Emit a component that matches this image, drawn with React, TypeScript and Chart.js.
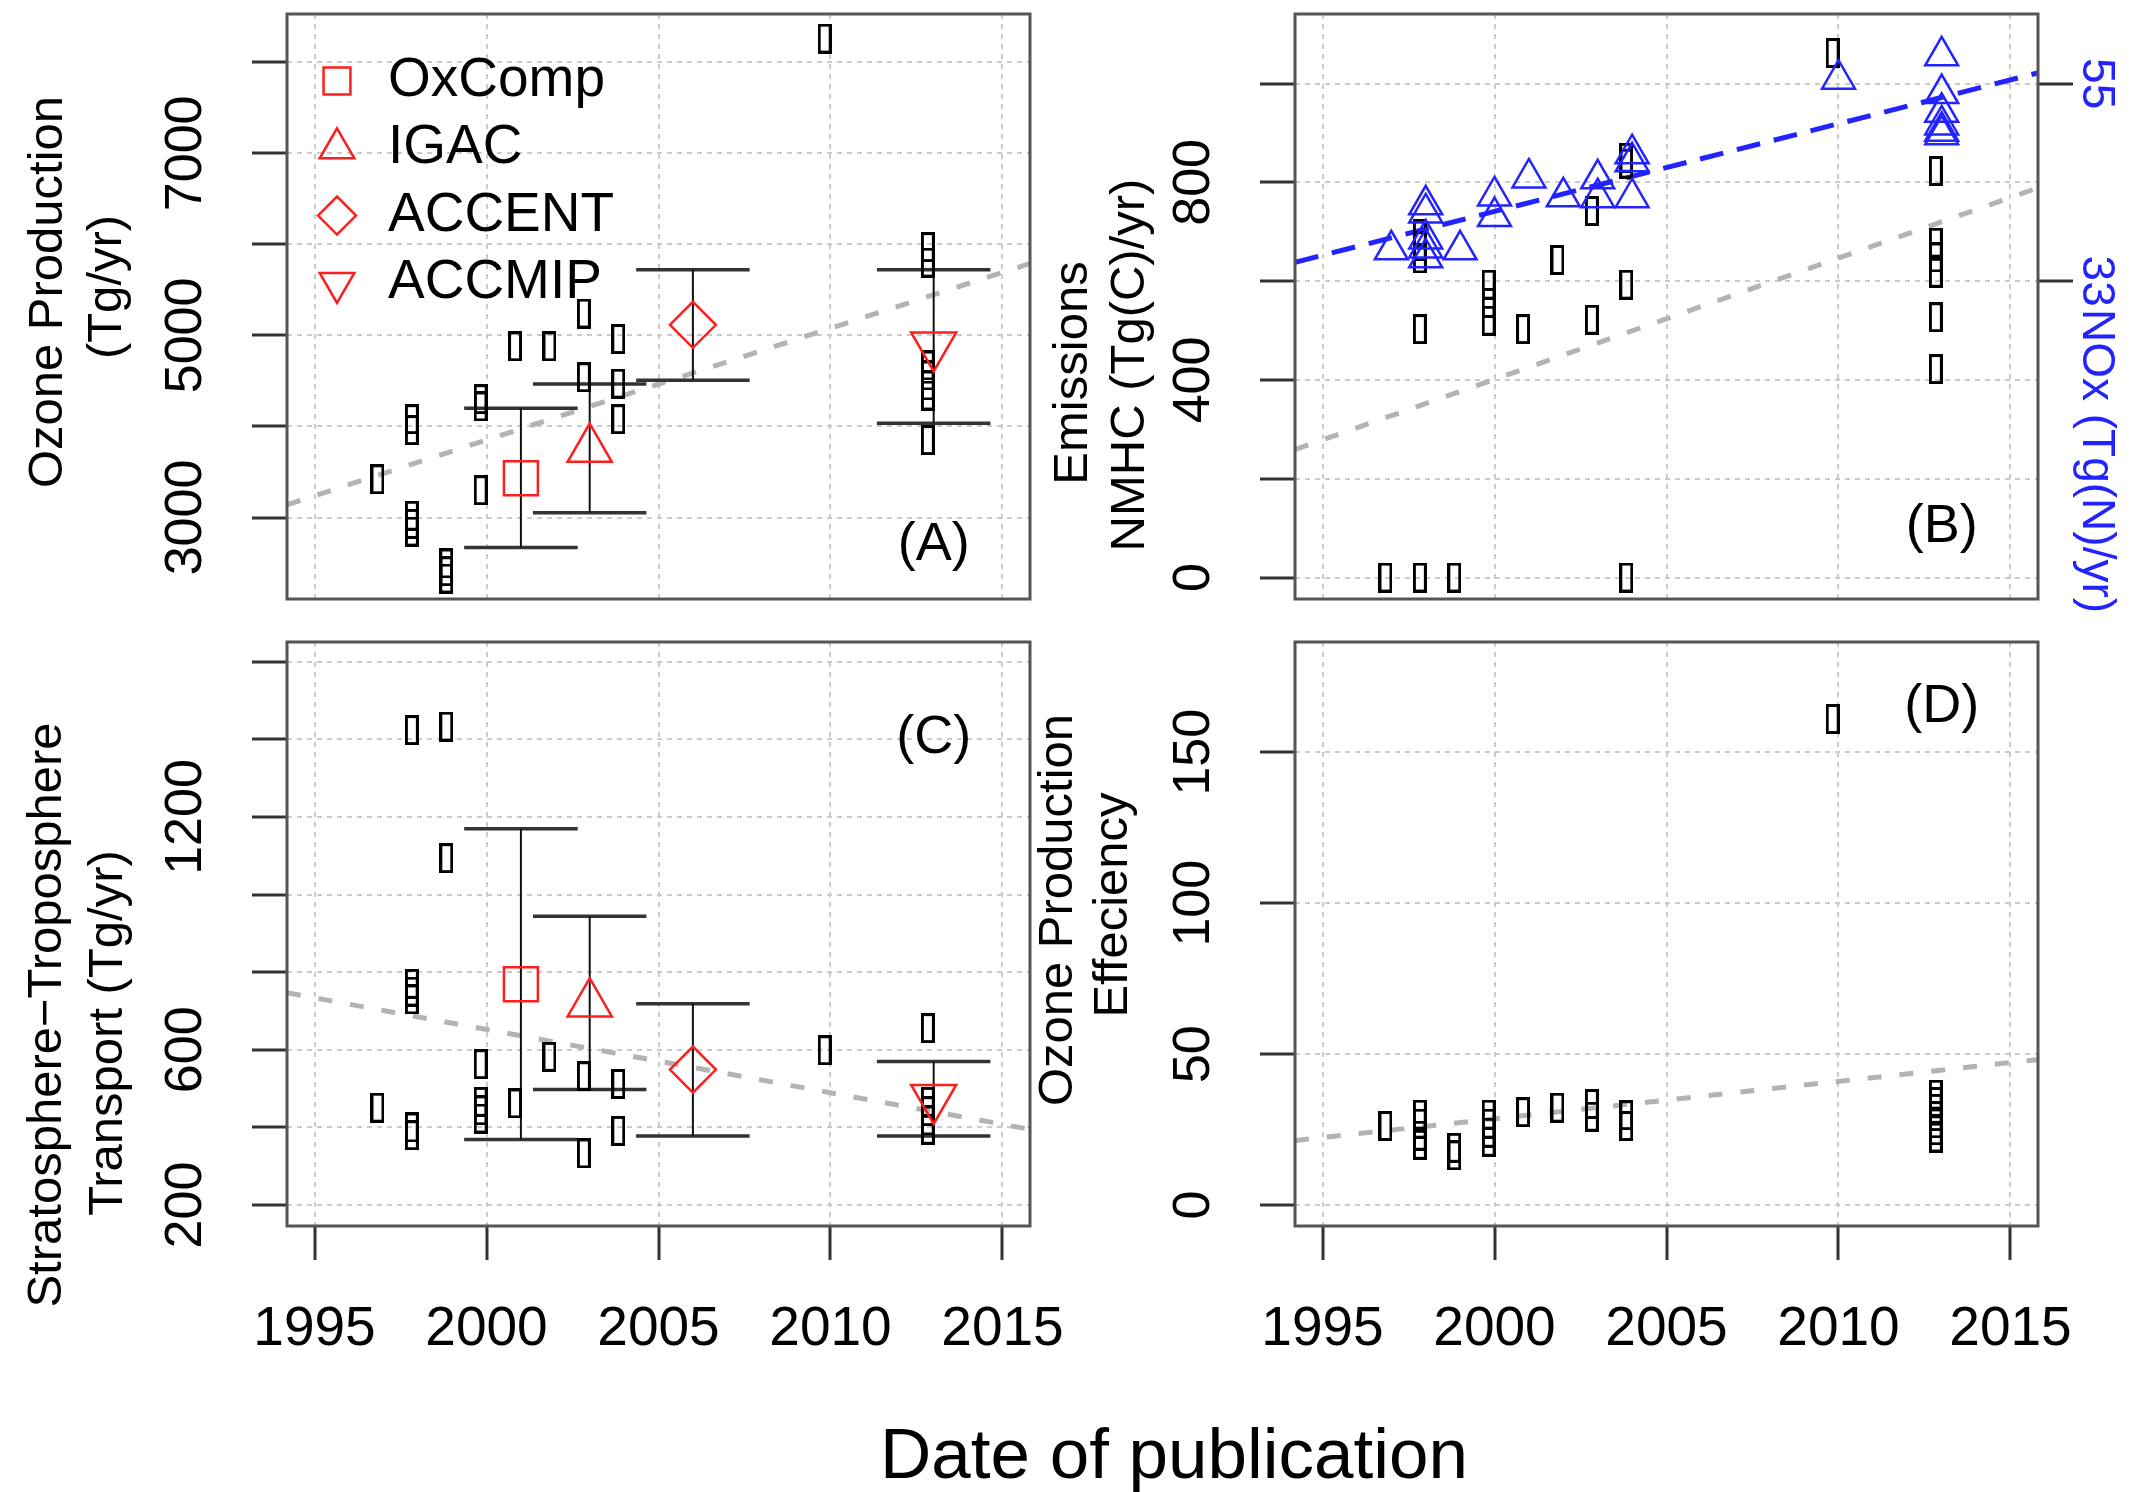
import React, { useEffect, useRef } from 'react';
import { Chart, registerables } from 'chart.js';

Chart.register(...registerables);

const FONT_FAMILY = "'Liberation Sans', Arial, Helvetica, sans-serif";
Chart.defaults.font.family = FONT_FAMILY;

/* ============================ DATA ============================ */
// shared x axis: date of publication
const X_MIN = 1994.2;
const X_MAX = 2015.8;
const X_TICKS = [1995, 2000, 2005, 2010, 2015];
const FIT_X = [X_MIN, X_MAX];

// multi-model assessments (red symbols)
const ASSESS_NAMES = ['OxComp', 'IGAC', 'ACCENT', 'ACCMIP'];
const ASSESS_YEARS = [2001, 2003, 2006, 2013];

// (A) Ozone production (Tg/yr)
const A_YEARS = [1997, 1998, 1998, 1998, 1998, 1998, 1999, 1999, 1999, 2000, 2000, 2000, 2001, 2002, 2003, 2003, 2004, 2004, 2004, 2010, 2013, 2013, 2013, 2013, 2013, 2013, 2013];
const A_VALUES = [3420, 4080, 3960, 3020, 2930, 2845, 2495, 2410, 2330, 4300, 4220, 3300, 4880, 4880, 5240, 4540, 4960, 4470, 4080, 8260, 5970, 5800, 4670, 4560, 4450, 4340, 3850];
const A_ASSESS_MEAN = [3431, 3752, 5116, 4890];
const A_ASSESS_LOW = [2671, 3053, 4508, 4035];
const A_ASSESS_HIGH = [4200, 4467, 5720, 5720];
const A_FIT = [3140, 5790];
const A_Y_RANGE = [2105, 8530];
const A_Y_TICKS = [3000, 4000, 5000, 6000, 7000, 8000];
const A_Y_LABELS = [3000, 5000, 7000];

// (B) Emissions: NMHC (Tg(C)/yr, black) and NOx (Tg(N)/yr, blue)
const B_NMHC_YEARS = [1997, 1998, 1998, 1998, 1998, 1998, 1999, 2000, 2000, 2000, 2001, 2002, 2003, 2003, 2004, 2004, 2004, 2004, 2010, 2013, 2013, 2013, 2013, 2013, 2013];
const B_NMHC_VALUES = [0, 695, 671, 646, 503, 0, 0, 593, 556, 520, 503, 643, 742, 522, 850, 838, 593, 0, 1062, 823, 678, 648, 617, 527, 422];
const B_NOX_YEARS = [1997, 1998, 1998, 1998, 1998, 1998, 1999, 2000, 2000, 2001, 2002, 2003, 2003, 2004, 2004, 2004, 2010, 2013, 2013, 2013, 2013, 2013, 2013];
const B_NOX_VALUES = [36.5, 41.5, 40.6, 37.7, 36.7, 35.6, 36.5, 42.5, 40.2, 44.5, 42.4, 44.4, 42.3, 47.2, 46.3, 42.3, 55.5, 58.1, 53.9, 51.8, 50.4, 49.7, 49.3];
const B_NMHC_FIT = [259, 789];
const B_NOX_FIT = [35.1, 56.2];
const B_Y_RANGE = [-43.5, 1141];
const B_Y_TICKS = [0, 200, 400, 600, 800, 1000];
const B_Y_LABELS = [0, 400, 800];
const NOX_PER_NMHC_UNIT = 0.055;
const B_NOX_TICKS = [33, 55];

// (C) Stratosphere-Troposphere transport (Tg/yr)
const C_YEARS = [1997, 1998, 1998, 1998, 1998, 1998, 1998, 1999, 1999, 2000, 2000, 2000, 2000, 2001, 2002, 2003, 2003, 2004, 2004, 2010, 2013, 2013, 2013, 2013, 2013];
const C_VALUES = [451, 1424, 770, 750, 730, 400, 380, 1433, 1094, 563, 466, 444, 423, 462, 582, 532, 333, 512, 391, 599, 656, 466, 442, 418, 394];
const C_ASSESS_MEAN = [769, 719, 549, 476];
const C_ASSESS_LOW = [369, 498, 378, 378];
const C_ASSESS_HIGH = [1170, 944, 719, 570];
const C_FIT = [747, 395];
const C_Y_RANGE = [146, 1651];
const C_Y_TICKS = [200, 400, 600, 800, 1000, 1200, 1400, 1600];
const C_Y_LABELS = [200, 600, 1200];

// (D) Ozone production efficiency
const D_YEARS = [1997, 1998, 1998, 1998, 1998, 1999, 1999, 2000, 2000, 2000, 2000, 2001, 2002, 2003, 2003, 2004, 2004, 2010, 2013, 2013, 2013, 2013, 2013, 2013, 2013];
const D_VALUES = [26.2, 30, 27, 23, 20, 19, 16.5, 30, 27, 24, 21, 30.8, 32.3, 33.5, 29.3, 29.8, 26.2, 161, 36.6, 34.2, 31.9, 29.5, 27.1, 24.8, 22.4];
const D_FIT = [21.4, 48.2];
const D_Y_RANGE = [-6.9, 186.5];
const D_Y_TICKS = [0, 50, 100, 150];
const D_Y_LABELS = [0, 50, 100, 150];

// panel letters (data coordinates)
const LETTER_YEAR = 2013;
const A_LETTER_Y = 2700;
const B_LETTER_Y = 102;
const C_LETTER_Y = 1404;
const D_LETTER_Y = 165;

/* ============================ STYLE / LAYOUT ============================ */
const PAGE_W = 2130;
const PAGE_H = 1492;
const LEFT_COL = { left: 287, right: 1030 };
const RIGHT_COL = { left: 1295, right: 2038 };
const TOP_ROW = { top: 14, bottom: 599 };
const BOTTOM_ROW = { top: 642, bottom: 1226 };
const Y_AXIS_W = 250;

const GRID_COLOR = '#cbcbcb';
const GRID_WIDTH = 2;
const GRID_DASH = [5, 5];
const AXIS_COLOR = '#333333';
const BOX_COLOR = '#555555';
const RED = '#ff1e1e';
const BLUE = '#2323ff';
const FIT_GREY = '#b3b3b3';
const TICK_LEN = 35;
const Y_LABEL_SIZE = 52;
const X_LABEL_SIZE = 55;
const RIGHT_LABEL_SIZE = 46;
const TITLE_SIZE = 49;
const LABEL_OFFSET = 100; // tick-label centre distance from plot box
const BLACK_X_SHIFT = -0.17; // glyph offset of the black study markers
const CAP_HALF = 1.65;

const ASSESS_STYLES = ['rect', 'triangle', 'rectRot', 'triangle'];
const ASSESS_ROT = [0, 0, 0, 180];
const ASSESS_RADIUS = [24, 25.5, 23, 26];
const LEGEND_RADIUS = [19, 20, 19, 20];

/* ============================ HELPERS ============================ */
const pts = (xs: number[], ys: number[], dx = 0) => xs.map((x, i) => ({ x: x + dx, y: ys[i] }));

function errorBars(xs: number[], lo: number[], hi: number[]) {
  const out: any[] = [];
  xs.forEach((x, i) => out.push({ x, y: lo[i] }, { x, y: hi[i] }, { x, y: null }));
  return out;
}
function errorCaps(xs: number[], lo: number[], hi: number[]) {
  const out: any[] = [];
  xs.forEach((x, i) => {
    out.push({ x: x - CAP_HALF, y: lo[i] }, { x: x + CAP_HALF, y: lo[i] }, { x, y: null });
    out.push({ x: x - CAP_HALF, y: hi[i] }, { x: x + CAP_HALF, y: hi[i] }, { x, y: null });
  });
  return out;
}

function measureWidest(labels: string[], size: number) {
  const ctx = document.createElement('canvas').getContext('2d');
  if (!ctx) return 0;
  ctx.font = `${size}px ${FONT_FAMILY}`;
  return labels.reduce((m, l) => Math.max(m, ctx.measureText(l).width), 0);
}

function zeroPad(s: any) {
  s.paddingLeft = 0; s.paddingRight = 0; s.paddingTop = 0; s.paddingBottom = 0;
}

function makeRectSymbol() {
  const c = document.createElement('canvas');
  c.width = 14; c.height = 30;
  const g = c.getContext('2d');
  if (g) { g.strokeStyle = '#000'; g.lineWidth = 3; g.strokeRect(1.5, 1.5, 11, 27); }
  return c;
}

function yScale(o: { range: number[]; ticks: number[]; labels: number[]; side: 'left' | 'right'; width: number; size: number; color: string; offset: number; grid: boolean }) {
  const widest = measureWidest(o.labels.map(String), o.size);
  const pad = o.offset - TICK_LEN - widest / 2;
  const rot = o.side === 'left' ? 90 : -90;
  return {
    type: 'linear', position: o.side, min: o.range[0], max: o.range[1],
    afterBuildTicks: (s: any) => { s.ticks = o.ticks.map((v) => ({ value: v })); },
    afterFit: (s: any) => { s.width = o.width; zeroPad(s); },
    ticks: {
      autoSkip: false, callback: (v: number) => (o.labels.includes(v) ? String(v) : ''),
      font: { size: o.size }, color: o.color, minRotation: rot, maxRotation: rot, crossAlign: 'center', padding: pad,
    },
    grid: { drawOnChartArea: o.grid, drawTicks: true, tickLength: TICK_LEN, tickWidth: 3, tickColor: AXIS_COLOR, color: GRID_COLOR, lineWidth: GRID_WIDTH },
    border: { display: false, dash: GRID_DASH },
  };
}

function xScale(showLabels: boolean, height: number) {
  return {
    type: 'linear', position: 'bottom', min: X_MIN, max: X_MAX,
    afterBuildTicks: (s: any) => { s.ticks = X_TICKS.map((v) => ({ value: v })); },
    afterFit: (s: any) => { s.height = height; zeroPad(s); },
    ticks: { display: showLabels, autoSkip: false, minRotation: 0, maxRotation: 0, callback: (v: number) => String(v), font: { size: X_LABEL_SIZE }, color: '#000', padding: 37 },
    grid: { drawOnChartArea: true, drawTicks: showLabels, tickLength: TICK_LEN - 1, tickWidth: 3, tickColor: AXIS_COLOR, color: GRID_COLOR, lineWidth: GRID_WIDTH },
    border: { display: false, dash: GRID_DASH },
  };
}

function rotText(ctx: CanvasRenderingContext2D, text: string, x: number, y: number, angle: number, size: number, color = '#000', align: CanvasTextAlign = 'center', baseline: CanvasTextBaseline = 'alphabetic') {
  ctx.save();
  ctx.translate(x, y);
  ctx.rotate(angle);
  ctx.font = `${size}px ${FONT_FAMILY}`;
  ctx.fillStyle = color;
  ctx.textAlign = align;
  ctx.textBaseline = baseline;
  ctx.fillText(text, 0, 0);
  ctx.restore();
}

function drawSymbol(ctx: CanvasRenderingContext2D, style: string, rot: number, x: number, y: number, r: number) {
  ctx.beginPath();
  if (style === 'rect') {
    const h = r * Math.SQRT1_2;
    ctx.rect(x - h, y - h, 2 * h, 2 * h);
  } else if (style === 'rectRot') {
    ctx.moveTo(x - r, y); ctx.lineTo(x, y - r); ctx.lineTo(x + r, y); ctx.lineTo(x, y + r); ctx.closePath();
  } else {
    const s = rot === 180 ? -1 : 1;
    ctx.moveTo(x, y - s * r);
    ctx.lineTo(x + r * 0.866, y + s * r / 2);
    ctx.lineTo(x - r * 0.866, y + s * r / 2);
    ctx.closePath();
  }
  ctx.stroke();
}

const boxPlugin = {
  id: 'plotBox',
  afterDatasetsDraw(chart: any) {
    const { left, top, right, bottom } = chart.chartArea;
    const ctx = chart.ctx;
    ctx.save();
    ctx.strokeStyle = BOX_COLOR;
    ctx.lineWidth = 3;
    ctx.strokeRect(left, top, right - left, bottom - top);
    ctx.restore();
  },
};

function textPlugin(id: string, draw: (chart: any, ctx: CanvasRenderingContext2D) => void) {
  return { id, afterDraw(chart: any) { const ctx = chart.ctx; ctx.save(); draw(chart, ctx); ctx.restore(); } };
}

function letter(chart: any, ctx: CanvasRenderingContext2D, text: string, yVal: number) {
  const x = chart.scales.x.getPixelForValue(LETTER_YEAR);
  const y = chart.scales.y.getPixelForValue(yVal);
  rotText(ctx, text, x, y, 0, 54, '#000', 'center', 'middle');
}

function blackDataset(xs: number[], ys: number[], sym: HTMLCanvasElement) {
  return { data: pts(xs, ys, BLACK_X_SHIFT), pointStyle: sym, pointRadius: 8, showLine: false, order: 2 };
}
function fitDataset(ys: number[], color: string, width: number, dash: number[], axis = 'y') {
  return { data: pts(FIT_X, ys), yAxisID: axis, showLine: true, pointRadius: 0, borderColor: color, borderWidth: width, borderDash: dash, order: 5 };
}
function assessDatasets(mean: number[], lo: number[], hi: number[]) {
  return [
    {
      data: pts(ASSESS_YEARS, mean), showLine: false, order: 0,
      pointStyle: ASSESS_STYLES, pointRotation: ASSESS_ROT, pointRadius: ASSESS_RADIUS,
      borderColor: RED, pointBorderColor: RED, backgroundColor: 'rgba(0,0,0,0)', pointBackgroundColor: 'rgba(0,0,0,0)',
      borderWidth: 2.5, pointBorderWidth: 2.5,
    },
    { data: errorBars(ASSESS_YEARS, lo, hi), showLine: true, spanGaps: false, pointRadius: 0, borderColor: '#111', borderWidth: 2, order: 3 },
    { data: errorCaps(ASSESS_YEARS, lo, hi), showLine: true, spanGaps: false, pointRadius: 0, borderColor: AXIS_COLOR, borderWidth: 3.5, order: 3 },
  ];
}

function baseOptions(col: any, row: any, scales: any, rightW: number, xLabels: boolean) {
  return {
    responsive: false, animation: false, devicePixelRatio: 1, events: [],
    layout: {
      autoPadding: false,
      padding: {
        left: col.left - Y_AXIS_W,
        right: rightW ? 0 : PAGE_W - col.right,
        top: row.top,
        bottom: xLabels ? 0 : PAGE_H - row.bottom,
      },
    },
    plugins: { legend: { display: false }, tooltip: { enabled: false } },
    scales: { x: xScale(xLabels, xLabels ? PAGE_H - row.bottom : 0), ...scales },
  };
}

/* ============================ PANELS ============================ */
function configA(sym: HTMLCanvasElement) {
  return {
    type: 'scatter',
    data: {
      datasets: [
        ...assessDatasets(A_ASSESS_MEAN, A_ASSESS_LOW, A_ASSESS_HIGH),
        blackDataset(A_YEARS, A_VALUES, sym),
        fitDataset(A_FIT, FIT_GREY, 5, [14, 18]),
      ],
    },
    options: baseOptions(LEFT_COL, TOP_ROW, {
      y: yScale({ range: A_Y_RANGE, ticks: A_Y_TICKS, labels: A_Y_LABELS, side: 'left', width: Y_AXIS_W, size: Y_LABEL_SIZE, color: '#000', offset: LABEL_OFFSET, grid: true }),
    }, 0, false),
    plugins: [boxPlugin, textPlugin('textA', (chart, ctx) => {
      rotText(ctx, 'Ozone Production', 62, 292, -Math.PI / 2, TITLE_SIZE);
      rotText(ctx, '(Tg/yr)', 121, 287, -Math.PI / 2, TITLE_SIZE);
      letter(chart, ctx, '(A)', A_LETTER_Y);
      const a = chart.chartArea;
      ctx.strokeStyle = RED;
      ctx.lineWidth = 2.5;
      ASSESS_NAMES.forEach((name, i) => {
        const cy = a.top + 67 + i * 67.3;
        drawSymbol(ctx, ASSESS_STYLES[i], ASSESS_ROT[i], a.left + 50, cy, LEGEND_RADIUS[i]);
        rotText(ctx, name, a.left + 101, cy, 0, 55, '#000', 'left', 'middle');
      });
    })],
  };
}

function configB(sym: HTMLCanvasElement) {
  return {
    type: 'scatter',
    data: {
      datasets: [
        { data: pts(B_NOX_YEARS, B_NOX_VALUES), yAxisID: 'y2', showLine: false, pointStyle: 'triangle', pointRadius: 19, borderColor: BLUE, pointBorderColor: BLUE, backgroundColor: 'rgba(0,0,0,0)', pointBackgroundColor: 'rgba(0,0,0,0)', borderWidth: 2.5, pointBorderWidth: 2.5, order: 1 },
        blackDataset(B_NMHC_YEARS, B_NMHC_VALUES, sym),
        fitDataset(B_NOX_FIT, BLUE, 5, [24, 14], 'y2'),
        fitDataset(B_NMHC_FIT, FIT_GREY, 5, [14, 18]),
      ],
    },
    options: baseOptions(RIGHT_COL, TOP_ROW, {
      y: yScale({ range: B_Y_RANGE, ticks: B_Y_TICKS, labels: B_Y_LABELS, side: 'left', width: Y_AXIS_W, size: Y_LABEL_SIZE, color: '#000', offset: LABEL_OFFSET, grid: true }),
      y2: yScale({ range: B_Y_RANGE.map((v) => v * NOX_PER_NMHC_UNIT), ticks: B_NOX_TICKS, labels: B_NOX_TICKS, side: 'right', width: PAGE_W - RIGHT_COL.right, size: RIGHT_LABEL_SIZE, color: BLUE, offset: 58, grid: false }),
    }, PAGE_W - RIGHT_COL.right, false),
    plugins: [boxPlugin, textPlugin('textB', (chart, ctx) => {
      rotText(ctx, 'Emissions', 1087, 373, -Math.PI / 2, TITLE_SIZE);
      rotText(ctx, 'NMHC (Tg(C)/yr)', 1144, 365, -Math.PI / 2, TITLE_SIZE);
      rotText(ctx, 'NOx (Tg(N)/yr)', 2096, 309, Math.PI / 2, RIGHT_LABEL_SIZE, BLUE, 'left', 'middle');
      letter(chart, ctx, '(B)', B_LETTER_Y);
    })],
  };
}

function configC(sym: HTMLCanvasElement) {
  return {
    type: 'scatter',
    data: {
      datasets: [
        ...assessDatasets(C_ASSESS_MEAN, C_ASSESS_LOW, C_ASSESS_HIGH),
        blackDataset(C_YEARS, C_VALUES, sym),
        fitDataset(C_FIT, FIT_GREY, 5, [14, 18]),
      ],
    },
    options: baseOptions(LEFT_COL, BOTTOM_ROW, {
      y: yScale({ range: C_Y_RANGE, ticks: C_Y_TICKS, labels: C_Y_LABELS, side: 'left', width: Y_AXIS_W, size: Y_LABEL_SIZE, color: '#000', offset: LABEL_OFFSET, grid: true }),
    }, 0, true),
    plugins: [boxPlugin, textPlugin('textC', (chart, ctx) => {
      rotText(ctx, 'Stratosphere\u2212Troposphere', 61, 1015, -Math.PI / 2, TITLE_SIZE);
      rotText(ctx, 'Transport (Tg/yr)', 122, 1033, -Math.PI / 2, TITLE_SIZE);
      letter(chart, ctx, '(C)', C_LETTER_Y);
    })],
  };
}

function configD(sym: HTMLCanvasElement) {
  return {
    type: 'scatter',
    data: {
      datasets: [
        blackDataset(D_YEARS, D_VALUES, sym),
        fitDataset(D_FIT, FIT_GREY, 5, [14, 18]),
      ],
    },
    options: baseOptions(RIGHT_COL, BOTTOM_ROW, {
      y: yScale({ range: D_Y_RANGE, ticks: D_Y_TICKS, labels: D_Y_LABELS, side: 'left', width: Y_AXIS_W, size: Y_LABEL_SIZE, color: '#000', offset: LABEL_OFFSET, grid: true }),
    }, 0, true),
    plugins: [boxPlugin, textPlugin('textD', (chart, ctx) => {
      rotText(ctx, 'Ozone Production', 1072, 910, -Math.PI / 2, TITLE_SIZE);
      rotText(ctx, 'Effeciency', 1127, 905, -Math.PI / 2, TITLE_SIZE);
      letter(chart, ctx, '(D)', D_LETTER_Y);
      rotText(ctx, 'Date of publication', 1174, 1478, 0, 71);
    })],
  };
}

export default function App() {
  const refA = useRef<HTMLCanvasElement>(null);
  const refB = useRef<HTMLCanvasElement>(null);
  const refC = useRef<HTMLCanvasElement>(null);
  const refD = useRef<HTMLCanvasElement>(null);

  useEffect(() => {
    const sym = makeRectSymbol();
    const charts: Chart[] = [];
    const pairs: [any, any][] = [[refA, configA], [refB, configB], [refC, configC], [refD, configD]];
    pairs.forEach(([ref, cfg]) => {
      if (ref.current) charts.push(new Chart(ref.current, cfg(sym) as any));
    });
    return () => charts.forEach((c) => c.destroy());
  }, []);

  const cs: React.CSSProperties = { position: 'absolute', left: 0, top: 0, width: PAGE_W, height: PAGE_H };
  return (
    <div style={{ position: 'fixed', left: 0, top: 0, width: PAGE_W, height: PAGE_H, background: '#ffffff', overflow: 'hidden' }}>
      <canvas ref={refA} width={PAGE_W} height={PAGE_H} style={cs} />
      <canvas ref={refB} width={PAGE_W} height={PAGE_H} style={cs} />
      <canvas ref={refC} width={PAGE_W} height={PAGE_H} style={cs} />
      <canvas ref={refD} width={PAGE_W} height={PAGE_H} style={cs} />
    </div>
  );
}
